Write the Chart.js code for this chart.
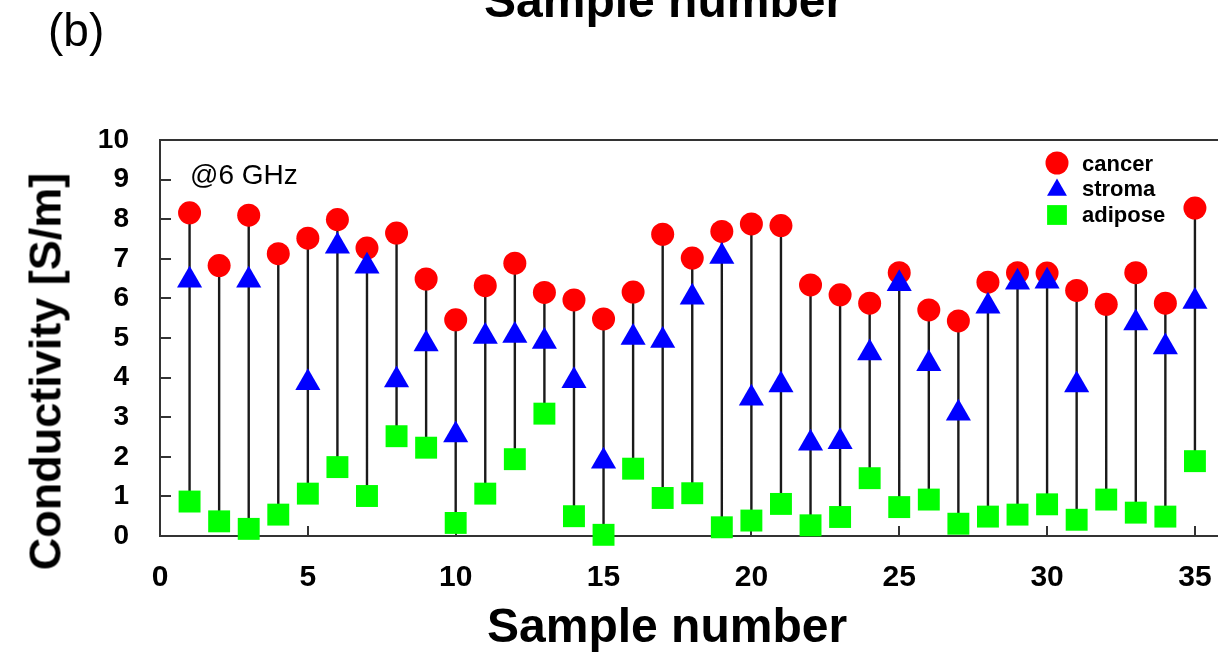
<!DOCTYPE html>
<html><head><meta charset="utf-8">
<script src="https://cdn.jsdelivr.net/npm/chart.js@4.4.1/dist/chart.umd.min.js"></script>
<style>
html,body{margin:0;padding:0;background:#fff;overflow:hidden;width:1218px;height:654px;}
#wrap{position:relative;width:1218px;height:654px;overflow:hidden;background:#fff;}
canvas{position:absolute;left:0;top:0;}
.t{position:absolute;font-family:"Liberation Sans",Arial,sans-serif;color:#000;white-space:nowrap;line-height:1;}
</style></head><body>
<div id="wrap">
<canvas id="c" width="1240" height="654"></canvas>
<div class="t" style="left:48px;top:7px;font-size:46px;">(b)</div>
<div class="t" style="left:484px;top:-23px;font-size:48px;font-weight:bold;">Sample number</div>
<div class="t" style="left:487px;top:602px;font-size:48px;font-weight:bold;">Sample number</div>
<div class="t" style="left:-165px;top:349px;width:420px;height:45px;text-align:center;font-size:45px;font-weight:bold;transform:rotate(-90deg);">Conductivity [S/m]</div>
</div>
<script>
const sampleNumbers = [1,2,3,4,5,6,7,8,9,10,11,12,13,14,15,16,17,18,19,20,21,22,23,24,25,26,27,28,29,30,31,32,33,34,35];
const cancer  = [8.16,6.83,8.10,7.13,7.52,7.99,7.27,7.65,6.49,5.46,6.32,6.89,6.15,5.96,5.48,6.16,7.62,7.02,7.69,7.88,7.84,6.34,6.09,5.88,6.65,5.71,5.43,6.41,6.65,6.64,6.20,5.85,6.65,5.88,8.28];
const stroma  = [6.46,null,6.46,null,3.87,7.32,6.81,3.94,4.85,2.55,5.04,5.06,4.91,3.92,1.89,5.01,4.94,6.03,7.06,3.48,3.81,2.34,2.38,4.62,6.37,4.35,3.10,5.80,6.41,6.43,3.81,null,5.38,4.77,5.92];
const adipose = [0.87,0.37,0.18,0.54,1.07,1.74,1.01,2.52,2.23,0.33,1.07,1.94,3.09,0.50,0.03,1.70,0.96,1.08,0.22,0.39,0.81,0.27,0.48,1.46,0.73,0.92,0.31,0.49,0.54,0.80,0.41,0.92,0.59,0.49,1.89];
const seriesNames = ['cancer','stroma','adipose'];
const xTickValues = [0,5,10,15,20,25,30,35];
const yTickValues = [0,1,2,3,4,5,6,7,8,9,10];
const annotationText = '@6 GHz';

const RED = '#ff0000', BLUE = '#0000ff', GREEN = '#00ff00';
const FONT = '"Liberation Sans", Arial, sans-serif';

const toPts = arr => sampleNumbers.map((s,i) => ({x:s, y:arr[i]}));
const stems = [];
sampleNumbers.forEach((s,i) => {
  stems.push({x:s, y:cancer[i]});
  stems.push({x:s, y:adipose[i]});
  stems.push({x:s, y:null});
});

function mark(ctx, style, color, r, x, y){
  ctx.save();
  ctx.fillStyle = color;
  if (Chart.helpers && Chart.helpers.drawPoint) {
    Chart.helpers.drawPoint(ctx, {pointStyle:style, radius:r, rotation:0, borderWidth:0}, x, y);
  }
  ctx.restore();
}

const decor = {
  id:'decor',
  beforeDatasetsDraw(chart){
    const {ctx, chartArea:a, scales:{x, y}} = chart;
    ctx.save();
    ctx.strokeStyle = '#333';
    ctx.lineWidth = 2;
    ctx.beginPath();
    ctx.moveTo(a.left-1, a.top); ctx.lineTo(a.right, a.top);
    yTickValues.forEach(v => {
      if (v > 0 && v < 10) { const py = Math.round(y.getPixelForValue(v)); ctx.moveTo(a.left, py); ctx.lineTo(a.left + 11, py); }
    });
    xTickValues.forEach(v => {
      if (v > 0) { const px = Math.round(x.getPixelForValue(v)); ctx.moveTo(px, a.bottom); ctx.lineTo(px, a.bottom - 10); }
    });
    ctx.stroke();
    ctx.restore();
  },
  afterDatasetsDraw(chart){
    const ctx = chart.ctx;
    ctx.save();
    ctx.fillStyle = '#000';
    ctx.font = '28px ' + FONT;
    ctx.textBaseline = 'alphabetic';
    ctx.textAlign = 'left';
    ctx.fillText(annotationText, 190, 184);
    const items = [
      {style:'circle', color:RED, r:11.5, my:163, ty:171},
      {style:'triangle', color:BLUE, r:11.5, my:190, ty:196},
      {style:'rect', color:GREEN, r:14, my:215, ty:222}
    ];
    ctx.font = 'bold 22px ' + FONT;
    items.forEach((it, i) => {
      mark(ctx, it.style, it.color, it.r, 1057, it.my);
      ctx.fillStyle = '#000';
      ctx.fillText(seriesNames[i], 1082, it.ty);
    });
    ctx.restore();
  }
};

new Chart(document.getElementById('c'), {
  type: 'scatter',
  data: {
    datasets: [
      {label:'stems', data:stems, showLine:true, spanGaps:false, borderColor:'#1a1a1a', borderWidth:2.4, pointRadius:0, pointHoverRadius:0, order:4, clip:false},
      {label:seriesNames[0], data:toPts(cancer), pointStyle:'circle', pointRadius:11.5, backgroundColor:RED, borderWidth:0, order:3, clip:false},
      {label:seriesNames[2], data:toPts(adipose), pointStyle:'rect', pointRadius:15.5, backgroundColor:GREEN, borderWidth:0, order:2, clip:false},
      {label:seriesNames[1], data:toPts(stroma), pointStyle:'triangle', pointRadius:14.5, backgroundColor:BLUE, borderWidth:0, order:1, clip:false}
    ]
  },
  options: {
    responsive:false,
    animation:false,
    events:[],
    layout:{padding:{top:140, right:12, left:0, bottom:0}},
    plugins:{legend:{display:false}, tooltip:{enabled:false}, title:{display:false}},
    scales:{
      x:{
        type:'linear', min:0, max:36,
        afterBuildTicks: ax => { ax.ticks = xTickValues.map(v => ({value:v})); },
        afterFit: ax => { ax.height = 118; },
        grid:{display:false, drawTicks:false},
        border:{display:true, color:'#333', width:2},
        ticks:{color:'#000', padding:24, maxRotation:0, autoSkip:false, font:{family:FONT, size:30, weight:'bold'}}
      },
      y:{
        type:'linear', min:0, max:10,
        afterBuildTicks: ax => { ax.ticks = yTickValues.map(v => ({value:v})); },
        afterFit: ax => { ax.width = 160; },
        grid:{display:false, drawTicks:false},
        border:{display:true, color:'#333', width:2},
        ticks:{color:'#000', padding:31, font:{family:FONT, size:28, weight:'bold'}}
      }
    }
  },
  plugins:[decor]
});
</script>
</body></html>
